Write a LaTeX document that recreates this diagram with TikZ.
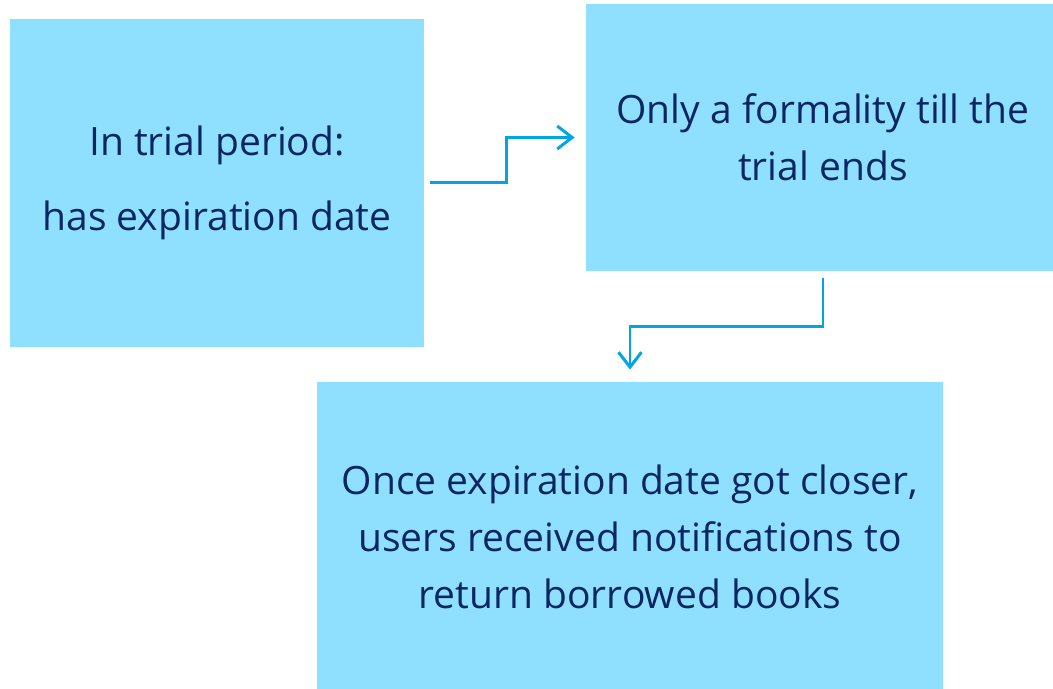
\documentclass[tikz,border=0pt]{standalone}
\usepackage{fontspec}
\setmainfont{Open Sans}
\usetikzlibrary{arrows.meta}
\definecolor{boxfill}{RGB}{143,224,255}
\definecolor{boxtext}{RGB}{12,38,98}
\definecolor{linkblue}{RGB}{0,166,228}
\tikzset{
  stagebox/.style={fill=boxfill, text=boxtext, align=center, inner sep=0pt,
    font=\fontsize{22.2}{32.5}\selectfont},
  link/.style={draw=linkblue, line width=1.7pt, -{Straight Barb[length=0.3cm,width=0.46cm]}}
}
\begin{document}
\begin{tikzpicture}
            \useasboundingbox (0,0) rectangle (21.06,13.78);
            \begin{scope}
            \clip (0,0) rectangle (21.06,13.78);
            \node[stagebox, minimum width=8.28cm, minimum height=6.56cm] (trial) at (4.34,10.12) {In trial period:\\[10pt]has expiration date};
            \node[stagebox, minimum width=9.48cm, minimum height=5.34cm] (formality) at (16.46,11.03) {Only a formality till the\\trial ends};
            \node[stagebox, minimum width=12.52cm, minimum height=6.2cm] (notify) at (12.6,3.04) {Once expiration date got closer,\\users received notifications to\\return borrowed books};
            \end{scope}
            \draw[link] ([xshift=0.12cm]trial.east) -- ++(1.52,0) |- ([xshift=-0.22cm]formality.west);
            \draw[link] ([yshift=-0.14cm]formality.south) -- ++(0,-0.96) -| ([yshift=0.24cm]notify.north);
        \end{tikzpicture}
\end{document}
